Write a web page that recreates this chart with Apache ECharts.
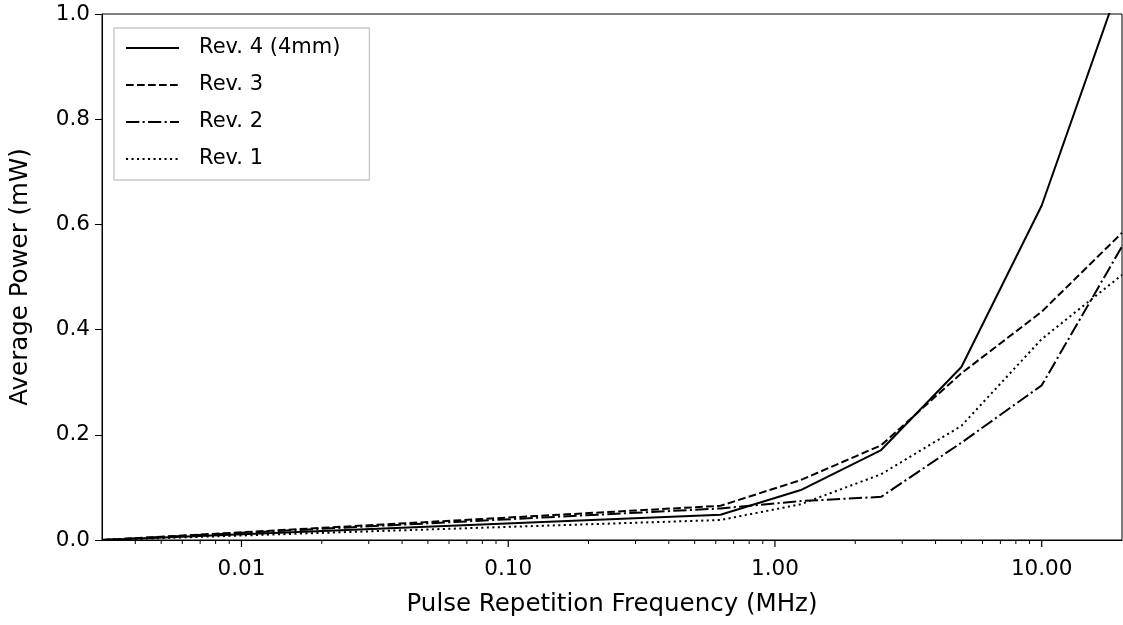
<!DOCTYPE html>
<html><head><meta charset="utf-8">
<script src="https://cdn.jsdelivr.net/npm/echarts@6/dist/echarts.min.js"></script>
<style>html,body{margin:0;padding:0;background:#fff}#c{width:1123px;height:625px}</style>
</head><body><div id="c"></div>
<script>
// ---- data ----
const freqMHz = [0.003, 0.625, 1.25, 2.5, 5, 10, 20];
const rev4 = [0, 0.048, 0.095, 0.171, 0.329, 0.636, 1.07];
const rev3 = [0, 0.065, 0.114, 0.180, 0.317, 0.434, 0.584];
const rev2 = [0, 0.060, 0.074, 0.082, 0.185, 0.294, 0.558];
const rev1 = [0, 0.038, 0.068, 0.125, 0.217, 0.382, 0.504];
const seriesNames = ['Rev. 4 (4mm)', 'Rev. 3', 'Rev. 2', 'Rev. 1'];
const majorTicks = [0.01, 0.1, 1, 10];
const minorTicks = [0.004,0.005,0.006,0.007,0.008,0.009,
  0.02,0.03,0.04,0.05,0.06,0.07,0.08,0.09,
  0.2,0.3,0.4,0.5,0.6,0.7,0.8,0.9,
  2,3,4,5,6,7,8,9];
const xTitle = 'Pulse Repetition Frequency (MHz)';
const yTitle = 'Average Power (mW)';

// ---- chart ----
const FONT = '"DejaVu Sans"';
const lw = 2;
const styles = [
  {type: 'solid'},
  {type: [7.7, 3.3]},
  {type: [13.3, 3.3, 2.1, 3.3]},
  {type: [2.1, 3.4]}
];
const valueSets = [rev4, rev3, rev2, rev1];
const lineSeries = valueSets.map((vals, i) => ({
  name: seriesNames[i],
  type: 'line',
  data: freqMHz.map((f, j) => [f, vals[j]]),
  symbol: 'none',
  clip: true,
  color: '#000',
  lineStyle: Object.assign({color: '#000', width: lw, cap: 'butt'}, styles[i]),
  z: 3
}));
function tickSeries(vals, len, width) {
  return {
    type: 'custom',
    clip: false,
    silent: true,
    data: vals.map(v => [v, 0]),
    renderItem: (params, api) => {
      const p = api.coord([api.value(0), 0]);
      return {type: 'line', shape: {x1: p[0], y1: p[1], x2: p[0], y2: p[1] + len},
              style: {stroke: '#000', lineWidth: width}};
    },
    z: 4
  };
}
const chart = echarts.init(document.getElementById('c'), null, {renderer: 'canvas'});
chart.setOption({
  animation: false,
  backgroundColor: '#fff',
  textStyle: {fontFamily: FONT, color: '#000'},
  grid: {left: 100, right: 1, top: 14, bottom: 85, show: true, borderColor: '#000', borderWidth: 1, backgroundColor: 'transparent'},
  legend: {
    data: seriesNames,
    orient: 'vertical',
    left: 114, top: 28,
    padding: [9, 29, 10, 11],
    itemWidth: 53, itemHeight: 14, itemGap: 15,
    backgroundColor: 'rgba(255,255,255,0.8)',
    borderColor: '#cccccc', borderWidth: 1.5, borderRadius: 0,
    itemStyle: {opacity: 0},
    textStyle: {fontFamily: FONT, fontSize: 21, color: '#000', lineHeight: 22, padding: [0, 0, 0, 15]},
    selectedMode: false
  },
  xAxis: {
    type: 'log', logBase: 10, min: 0.003, max: 20,
    name: xTitle, nameLocation: 'middle', nameGap: 52,
    nameTextStyle: {fontFamily: FONT, fontSize: 24.5, color: '#000'},
    axisLine: {lineStyle: {color: '#000', width: 1}},
    axisTick: {show: false},
    splitLine: {show: false},
    minorTick: {show: false},
    axisLabel: {
      fontFamily: FONT, fontSize: 21.5, color: '#000', margin: 18,
      showMinLabel: false, showMaxLabel: false,
      formatter: v => majorTicks.some(m => Math.abs(m - v) / m < 1e-6) ? Number(v).toFixed(2) : ''
    }
  },
  yAxis: {
    type: 'value', min: 0, max: 1, interval: 0.2,
    name: yTitle, nameLocation: 'middle', nameGap: 69,
    nameTextStyle: {fontFamily: FONT, fontSize: 24.5, color: '#000'},
    axisLine: {show: true, lineStyle: {color: '#000', width: 1}},
    axisTick: {show: true, length: 7, lineStyle: {color: '#000', width: 1}},
    splitLine: {show: false},
    axisLabel: {fontFamily: FONT, fontSize: 21.5, color: '#000', margin: 12, formatter: v => v.toFixed(1)}
  },
  series: [...lineSeries, tickSeries(majorTicks, 7, 1.2), tickSeries(minorTicks, 4, 1)]
});
</script></body></html>
